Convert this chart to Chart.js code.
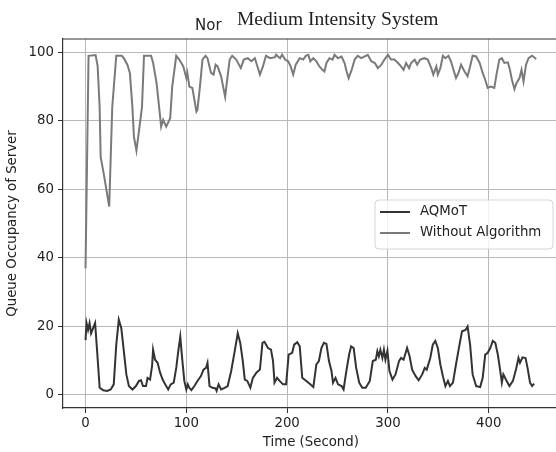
<!DOCTYPE html>
<html>
<head>
<meta charset="utf-8">
<script src="https://cdn.jsdelivr.net/npm/chart.js@4.4.1/dist/chart.umd.min.js"></script>
<style>
  html, body { margin: 0; padding: 0; background: #fff; overflow: hidden; }
  #wrap { width: 556px; height: 452px; overflow: hidden; }
</style>
</head>
<body>
<div id="wrap"><canvas id="chart" width="560" height="452"></canvas></div>
<script>
"use strict";

// Values
const aqmotTime = [
  0, 1, 2.5, 4, 5.5, 7.5, 9.5, 11.5, 14, 17.5, 21.5, 25, 28, 30.5, 33, 35.5, 38, 40.5, 43, 46.5,
  50, 53, 55, 57, 60, 61.5, 64, 66, 67, 69, 71.5, 74, 76.5, 79, 82, 84.5, 87.5, 90, 92, 94,
  95.5, 98, 100, 101.5, 103, 105, 108, 111, 114.5, 117, 119.5, 121, 123, 126, 129, 130, 132, 134.5, 138, 141,
  144.5, 148, 151, 153.5, 156, 158, 160.5, 163.5, 166, 169.5, 173, 175.5, 177.5, 181, 184, 186, 187.5, 190, 192.5, 196,
  199, 201.5, 205, 207, 210, 212.5, 215, 219, 223, 226, 229, 231.5, 234, 236.5, 239, 241.5, 244, 245.5, 248, 250.5,
  254, 256, 258.5, 261.5, 263.5, 266, 268.5, 271.5, 274.5, 278, 282, 285, 288, 289.5, 291, 292.5, 294.5, 296, 297.5, 299.5,
  301.5, 304.5, 307.5, 311, 313, 315.5, 319, 321.5, 324, 327.5, 330.5, 334, 336.5, 338.5, 342, 344.5, 347, 349.5, 352, 354.5,
  357, 359.5, 361.5, 364.5, 367.5, 371, 373.5, 377, 379, 381.5, 384, 387.5, 391.5, 394, 396.5, 399, 401.5, 404, 406.5, 409,
  411, 413, 414.5, 417, 420.5, 424, 427, 429.5, 431, 433.5, 436.5, 438.5, 441, 443, 445
];
const aqmotQueue = [
  16, 21, 19, 21, 18, 19.5, 21, 12.8, 2.1, 1.4, 1.2, 1.6, 3.1, 14.7, 22, 19.5, 12.8, 6, 2.6, 1.6,
  2.6, 4.1, 4.3, 2.6, 2.6, 5, 4.5, 8.4, 13.2, 10.3, 9.4, 6.5, 4.5, 3.1, 1.6, 3.1, 3.6, 7.9, 12.8, 17,
  11.8, 4.1, 1.6, 3.1, 2.1, 1.4, 2.6, 4.1, 5.5, 7.4, 7.9, 9.4, 2.6, 2.1, 1.9, 1.2, 3.1, 1.6, 2.1, 2.6,
  7, 12.8, 18, 15.2, 9.9, 4.5, 4.1, 2.1, 5, 6.5, 7.4, 15.2, 15.5, 13.7, 13.2, 9.9, 3.6, 5, 4.1, 3.1,
  3.1, 11.8, 12.3, 14.7, 15.4, 14.2, 5, 4.1, 3.1, 2.3, 8.9, 9.9, 13.7, 15.2, 14.9, 9.9, 7, 3.6, 5, 3.1,
  2.6, 1.6, 6.5, 11.8, 14.2, 13.7, 7.9, 3.6, 2.1, 2.1, 4.1, 9.9, 10.3, 12.8, 11.3, 13.2, 10.8, 13.2, 10.3, 12.9,
  7, 4.5, 6, 9.9, 10.8, 10.3, 13.7, 11.3, 7.4, 5.5, 4.3, 6, 7.9, 7.4, 10.8, 14.7, 15.8, 13.7, 8.9, 5.5,
  2.6, 4.1, 2.6, 3.6, 8.9, 14.7, 18.6, 19, 20, 14.7, 6, 2.6, 2.3, 5, 11.8, 12.3, 13.7, 15.8, 15.2, 11.8,
  7.9, 3.6, 6, 4.5, 2.6, 4.1, 7.4, 10.8, 9.4, 11, 10.8, 7.9, 3.6, 2.6, 3.3
];

const baseTime = [
  0, 3, 10, 12, 14, 15, 18, 23.5, 26.5, 30.5, 36, 38, 41.5, 44, 46.5, 48, 50.5, 53, 56, 58,
  65, 67, 70.5, 73, 75, 77, 80, 84, 86, 90, 93, 97, 100, 101, 103, 106, 110, 111, 113.5, 116,
  119, 121, 124.5, 127, 129, 131, 134.5, 138.5, 140.5, 143, 145.5, 149.5, 154, 157, 161, 164.5, 168, 170, 173, 176,
  179, 183, 188, 189, 193, 195, 198, 201, 203.5, 206, 208.5, 212.5, 216, 218.5, 221, 223, 226, 229, 232, 235,
  237, 239, 242, 245, 247, 250.5, 254, 257, 259, 261, 264, 267, 270, 273.5, 277, 280, 283.5, 287, 290, 293.5,
  296.5, 300, 303, 306.5, 310, 313, 315.5, 318, 321, 323, 326.5, 329, 332, 336, 339.5, 343, 345, 348, 349.5, 352,
  354.5, 357, 360, 362.5, 365, 367.5, 370, 372.5, 376, 379, 381.5, 384, 387.5, 391, 394, 396.5, 399, 402, 405.5, 408,
  410.5, 413, 415.5, 419, 421, 423, 425.5, 427.5, 430.5, 432.5, 434.5, 437, 439.5, 443, 445, 447
];
const baseQueue = [
  37, 99, 99.2, 96, 84, 69.5, 64.7, 55, 84, 99, 99, 98.3, 96.4, 94, 84, 75.4, 71.3, 77, 84, 99,
  99, 97, 91, 84, 78.3, 80.3, 78.3, 80.8, 90, 99, 97.9, 95.9, 92.5, 94, 90, 89.6, 82.7, 83.2, 90, 97.9,
  99, 98.3, 94, 93.5, 96.4, 95.9, 93, 87, 92, 97.9, 99, 97.9, 95.4, 97.9, 98.3, 97.4, 98.3, 96.4, 93.5, 95.9,
  99, 98.3, 98.6, 99.3, 98.3, 99.3, 97.9, 97.4, 95.9, 93.5, 96.4, 98.3, 97.9, 99, 99.3, 97.4, 98.3, 97.4, 95.9, 94.9,
  94.4, 96.9, 98.3, 97.9, 99.3, 98.3, 98.8, 96.9, 94.4, 92.5, 94.9, 97.9, 99, 98.3, 98.8, 99.3, 97.4, 96.9, 95.4, 96.4,
  97.9, 99.3, 97.9, 97.9, 96.9, 95.9, 94.9, 96.9, 95.4, 96.9, 97.9, 96.4, 97.9, 98.3, 97.9, 95.4, 93.5, 95.9, 93.5, 95.4,
  99, 98.3, 99, 97.4, 94.9, 92.5, 94, 96.4, 94.4, 93, 95.9, 99, 98.8, 96.9, 94, 92, 89.6, 90, 89.6, 94,
  97.9, 98.3, 96.9, 97.1, 94.9, 92, 89.3, 91, 92.5, 94.9, 91.5, 96.4, 98.3, 99, 98.6, 98
];

const seriesNames = ["AQMoT", "Without Algorithm"];
const seriesColors = ["#333333", "#7a7a7a"];
const xTicks = [0, 100, 200, 300, 400];
const yTicks = [0, 20, 40, 60, 80, 100];

const pairs = (xs, ys) => xs.map((x, i) => ({ x: x, y: ys[i] }));

const FONT = "DejaVu Sans";
const TEXT = "#222222";

// titles, axis labels, top/right spines and the legend box
const decorations = {
  id: "decorations",
  afterDraw(chart) {
    const { ctx, chartArea: a } = chart;
    ctx.save();
    ctx.strokeStyle = "#333";
    ctx.lineWidth = 1.2;
    ctx.beginPath();
    ctx.moveTo(a.left, a.top); ctx.lineTo(a.right, a.top); ctx.lineTo(a.right, a.bottom);
    ctx.stroke();

    ctx.fillStyle = TEXT;
    ctx.textBaseline = "alphabetic";
    ctx.textAlign = "left";
    ctx.font = "15px '" + FONT + "'";
    ctx.fillText("Nor", 195, 30);
    ctx.font = "19.5px 'Liberation Serif'";
    ctx.fillText("Medium Intensity System", 237, 25);

    ctx.font = "13.3px '" + FONT + "'";
    ctx.textAlign = "center";
    ctx.textBaseline = "middle";
    ctx.fillText("Time (Second)", (a.left + a.right) / 2, 443);
    ctx.save();
    ctx.translate(13, (a.top + a.bottom) / 2);
    ctx.rotate(-Math.PI / 2);
    ctx.fillText("Queue Occupancy of Server", 0, 0);
    ctx.restore();

    // legend
    const lx = 375, ly = 200, lw = 178, lh = 49, r = 4;
    ctx.beginPath();
    ctx.moveTo(lx + r, ly);
    ctx.arcTo(lx + lw, ly, lx + lw, ly + lh, r);
    ctx.arcTo(lx + lw, ly + lh, lx, ly + lh, r);
    ctx.arcTo(lx, ly + lh, lx, ly, r);
    ctx.arcTo(lx, ly, lx + lw, ly, r);
    ctx.closePath();
    ctx.fillStyle = "rgba(255,255,255,0.8)";
    ctx.fill();
    ctx.strokeStyle = "#d5d5d5";
    ctx.lineWidth = 1;
    ctx.stroke();

    ctx.textAlign = "left";
    seriesNames.forEach((name, i) => {
      const y = 212 + i * 21;
      ctx.strokeStyle = seriesColors[i];
      ctx.lineWidth = 2;
      ctx.beginPath();
      ctx.moveTo(380, y); ctx.lineTo(410, y);
      ctx.stroke();
      ctx.fillStyle = TEXT;
      ctx.fillText(name, 420, y);
    });
    ctx.restore();
  }
};

new Chart(document.getElementById("chart").getContext("2d"), {
  type: "scatter",
  data: {
    datasets: [
      {
        label: seriesNames[0],
        data: pairs(aqmotTime, aqmotQueue),
        showLine: true,
        borderColor: seriesColors[0],
        borderWidth: 2,
        pointRadius: 0,
        tension: 0
      },
      {
        label: seriesNames[1],
        data: pairs(baseTime, baseQueue),
        showLine: true,
        borderColor: seriesColors[1],
        borderWidth: 2,
        pointRadius: 0,
        tension: 0
      }
    ]
  },
  options: {
    responsive: false,
    animation: false,
    layout: { padding: { top: 39, right: 1.3, left: 0, bottom: 0 } },
    plugins: {
      legend: { display: false },
      tooltip: { enabled: false }
    },
    scales: {
      x: {
        type: "linear",
        min: -22.35,
        max: 469.4,
        afterBuildTicks: (s) => { s.ticks = xTicks.map(v => ({ value: v })); },
        afterFit: (s) => { s.height = 44; },
        ticks: { color: TEXT, font: { family: FONT, size: 13.3 }, padding: 3, maxRotation: 0 },
        grid: { color: "#b8b8b8", lineWidth: 1, tickColor: "#333", tickLength: 5 },
        border: { color: "#333", width: 1.2 }
      },
      y: {
        type: "linear",
        min: -3.8,
        max: 103.9,
        afterBuildTicks: (s) => { s.ticks = yTicks.map(v => ({ value: v })); },
        afterFit: (s) => { s.width = 63; },
        ticks: { color: TEXT, font: { family: FONT, size: 13.3 }, padding: 4 },
        grid: { color: "#b8b8b8", lineWidth: 1, tickColor: "#333", tickLength: 5 },
        border: { color: "#333", width: 1.2 }
      }
    }
  },
  plugins: [decorations]
});
</script>
</body>
</html>
